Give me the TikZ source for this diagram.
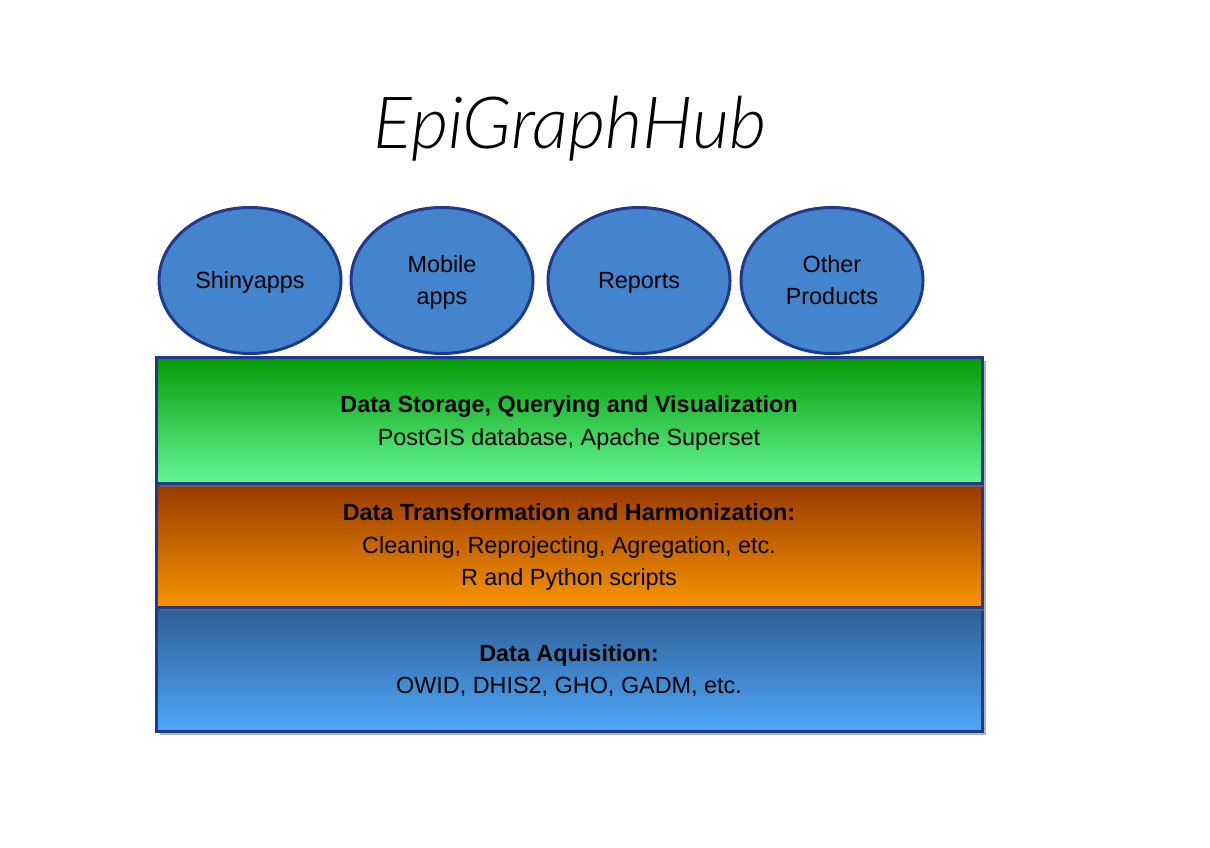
\documentclass[tikz,border=0pt]{standalone}
\usepackage{fontspec}
\setmainfont{Liberation Sans}
\newfontfamily\titlefont{Lato Light Italic}
\usetikzlibrary{shadows,shapes.geometric}
\definecolor{appblue}{RGB}{68,132,204}
\definecolor{edgeblue}{RGB}{33,57,138}
\definecolor{greentop}{RGB}{5,155,5}
\definecolor{greenbot}{RGB}{100,247,150}
\definecolor{orangetop}{RGB}{152,56,0}
\definecolor{orangebot}{RGB}{248,148,0}
\definecolor{bluetop}{RGB}{46,94,148}
\definecolor{bluebot}{RGB}{78,166,248}
\tikzset{
  app/.style={ellipse, draw=edgeblue, line width=3pt, fill=appblue,
    minimum width=182pt, minimum height=146pt, inner sep=0pt},
  apptext/.style={font=\fontsize{23.4}{32}\selectfont, align=center},
  layer/.style={rectangle, draw=edgeblue, line width=3pt,
    minimum width=826pt, inner sep=0pt,
    drop shadow={shadow xshift=4pt, shadow yshift=-4pt, opacity=0.55, fill=black!55}},
  layertext/.style={font=\fontsize{23.4}{32.6}\selectfont, align=center},
}
\begin{document}
\begin{tikzpicture}[x=1pt, y=-1pt]
  \useasboundingbox (0,0) rectangle (1210,848);

  % Title
  \node[anchor=base, font=\titlefont\fontsize{72}{80}\selectfont] (title) at (570,149) {EpiGraphHub};

  % Layers
  \node[layer, minimum height=124pt, top color=bluetop, bottom color=bluebot] (acq) at (569,669) {};
  \node[layer, minimum height=124pt, top color=orangetop, bottom color=orangebot] (trans) at (569,545) {};
  \node[layer, minimum height=126pt, top color=greentop, bottom color=greenbot] (store) at (569,420) {};

  % Layer texts
  \node[layertext] (storetext) at ([yshift=-3pt]store.center)
    {\textbf{Data Storage, Querying and Visualization}\\PostGIS database, Apache Superset};
  \node[layertext] (transtext) at ([yshift=-2pt]trans.center)
    {\textbf{Data Transformation and Harmonization:}\\Cleaning, Reprojecting, Agregation, etc.\\R and Python scripts};
  \node[layertext] (acqtext) at ([yshift=-1.5pt]acq.center)
    {\textbf{Data Aquisition:}\\OWID, DHIS2, GHO, GADM, etc.};

  % Products
  \node[app] (shiny) at (250,280.5) {};
  \node[app] (mobile) at (442,280.5) {};
  \node[app] (reports) at (639,280.5) {};
  \node[app] (other) at (832,280.5) {};
  \node[apptext] (shinytext) at ([yshift=-2pt]shiny.center) {Shinyapps};
  \node[apptext] (mobiletext) at ([yshift=-2pt]mobile.center) {Mobile\\apps};
  \node[apptext] (reportstext) at ([yshift=-2pt]reports.center) {Reports};
  \node[apptext] (othertext) at (other.center) {Other\\Products};
\end{tikzpicture}
\end{document}
